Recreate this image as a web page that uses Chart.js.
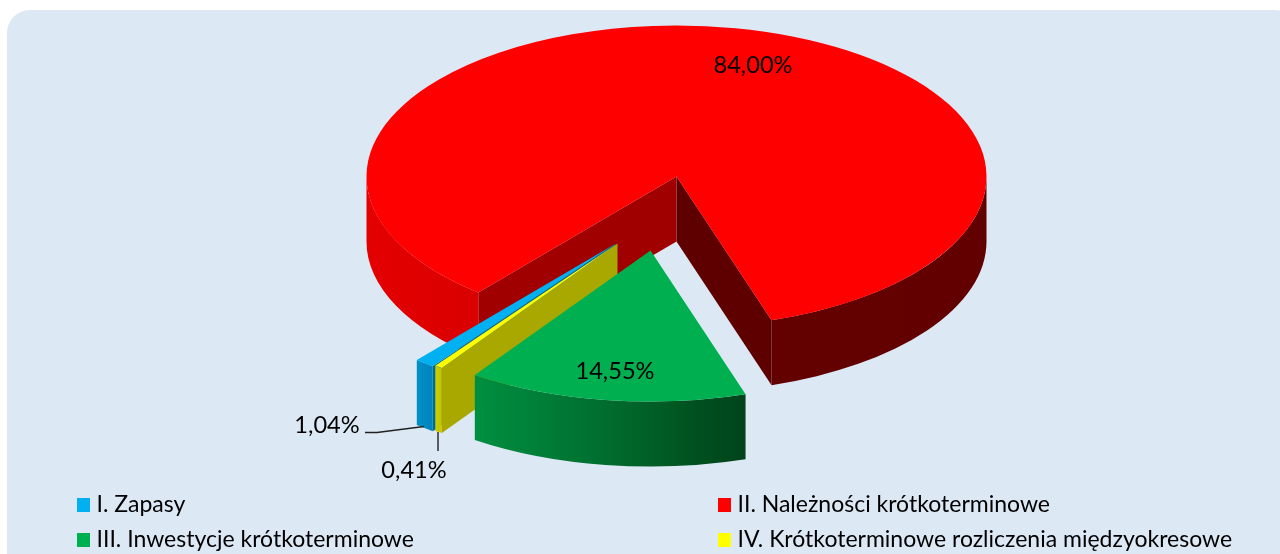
<!DOCTYPE html>
<html lang="pl">
<head>
<meta charset="utf-8">
<style>html,body{margin:0;padding:0;background:#fff}canvas{display:block}</style>
<script src="https://cdn.jsdelivr.net/npm/chart.js@4/dist/chart.umd.min.js"></script>
</head>
<body>
<canvas id="c" width="1280" height="554"></canvas>
<script>
const categories = ['I. Zapasy', 'II. Należności krótkoterminowe', 'III. Inwestycje krótkoterminowe', 'IV. Krótkoterminowe rozliczenia międzyokresowe'];
const values = [1.04, 84.00, 14.55, 0.41];
const topColors = ['#00b0f0', '#ff0000', '#00b050', '#ffff00'];

// 3D look of the slices (style only)
const SQUASH = 151 / 310, DEPTH = 65, RADIUS = 310;
const sliceShift = [[-61.5, 67.5], [0, 0], [-26, 74], [-59, 67]];
const rimStops = [
  [[0, '#0090c8'], [1, '#0084bc']],
  [[0, '#e40000'], [0.35, '#d00000'], [0.36, '#640000'], [1, '#620000']],
  [[0, '#008f40'], [0.5, '#006c2e'], [0.8, '#00521f'], [1, '#00431c']],
  [[0, '#cccc00'], [1, '#c4c400']]
];
const startFace = ['#006a90', '#a00000', '#000', '#a8a800'];
const endFace = ['#006a90', '#5e0000', '#000', '#a8a800'];

const LABEL_FONT = '23.6px Lato, Carlito, sans-serif';
const LEGEND_FONT = '23px Lato, Carlito, sans-serif';
const labelPos = [[327, 425], [753, 65], [615, 371], [414, 470]];
const legendPos = [[77, 498], [718, 498], [77, 533], [718, 533]];

function drawWalls(ctx, arc, i) {
  const [sx, sy] = sliceShift[i];
  const cx = arc.x + sx, cy = arc.y + sy, r = arc.outerRadius, ry = r * SQUASH;
  const a0 = arc.startAngle, a1 = arc.endAngle;
  const px = a => cx + r * Math.cos(a), py = a => cy + ry * Math.sin(a);
  const face = (a, col) => {
    ctx.fillStyle = col;
    ctx.beginPath();
    ctx.moveTo(cx, cy); ctx.lineTo(px(a), py(a));
    ctx.lineTo(px(a), py(a) + DEPTH); ctx.lineTo(cx, cy + DEPTH);
    ctx.closePath(); ctx.fill();
  };
  if (Math.cos(a1) > 0) face(a1, endFace[i]);
  if (Math.cos(a0) < 0) face(a0, startFace[i]);
  let minX = Infinity, maxX = -Infinity;
  for (let t = 0; t <= 720; t++) {
    const x = px(a0 + (a1 - a0) * t / 720);
    minX = Math.min(minX, x); maxX = Math.max(maxX, x);
  }
  const g = ctx.createLinearGradient(minX, 0, maxX, 0);
  rimStops[i].forEach(s => g.addColorStop(s[0], s[1]));
  ctx.fillStyle = g;
  for (let k = 0; k < 2; k++) {
    const lo = Math.max(a0, 2 * Math.PI * k), hi = Math.min(a1, Math.PI + 2 * Math.PI * k);
    if (hi <= lo) continue;
    ctx.beginPath();
    ctx.ellipse(cx, cy, r, ry, 0, lo, hi);
    ctx.ellipse(cx, cy + DEPTH, r, ry, 0, hi, lo, true);
    ctx.closePath(); ctx.fill();
  }
}

const pie3d = {
  id: 'pie3d',
  beforeDraw(chart) {
    const ctx = chart.ctx;
    ctx.save();
    ctx.fillStyle = '#dde8f5';
    ctx.beginPath();
    ctx.roundRect(7, 10, 1290, 570, 23);
    ctx.fill();
    ctx.restore();
  },
  beforeDatasetDraw(chart, args) {
    const ctx = chart.ctx, arcs = args.meta.data;
    [1, 0, 3, 2].forEach(i => { ctx.save(); drawWalls(ctx, arcs[i], i); ctx.restore(); });
    [1, 0, 3, 2].forEach(i => {
      const arc = arcs[i], [sx, sy] = sliceShift[i];
      ctx.save();
      ctx.translate(sx, arc.y + sy);
      ctx.scale(1, SQUASH);
      ctx.translate(0, -arc.y);
      arc.draw(ctx);
      ctx.restore();
    });
    return false;
  },
  afterDraw(chart) {
    const ctx = chart.ctx;
    ctx.save();
    // leader lines
    ctx.strokeStyle = '#222'; ctx.lineWidth = 1.4;
    ctx.beginPath();
    ctx.moveTo(365, 432.5); ctx.lineTo(377, 432.5); ctx.lineTo(424, 426.5);
    ctx.moveTo(438, 432); ctx.lineTo(438, 451);
    ctx.stroke();
    // data labels
    ctx.font = LABEL_FONT; ctx.fillStyle = '#000';
    ctx.textAlign = 'center'; ctx.textBaseline = 'middle';
    values.forEach((v, i) => {
      ctx.fillText(v.toFixed(2).replace('.', ',') + '%', labelPos[i][0], labelPos[i][1]);
    });
    // legend
    ctx.font = LEGEND_FONT;
    ctx.textAlign = 'left'; ctx.textBaseline = 'alphabetic';
    categories.forEach((name, i) => {
      const [x, y] = legendPos[i];
      ctx.fillStyle = topColors[i];
      ctx.fillRect(x, y, 13, 14);
      ctx.fillStyle = '#000';
      ctx.fillText(name, x + 19.5, y + 14);
    });
    ctx.restore();
  }
};

new Chart(document.getElementById('c'), {
  type: 'pie',
  data: {
    labels: categories,
    datasets: [{ data: values, backgroundColor: topColors, borderWidth: 0, clip: false }]
  },
  options: {
    responsive: false,
    animation: false,
    rotation: 216,
    radius: RADIUS,
    layout: { padding: { left: 73, right: 0, top: 0, bottom: 201 } },
    plugins: { legend: { display: false }, tooltip: { enabled: false } }
  },
  plugins: [pie3d]
});
</script>
</body>
</html>
